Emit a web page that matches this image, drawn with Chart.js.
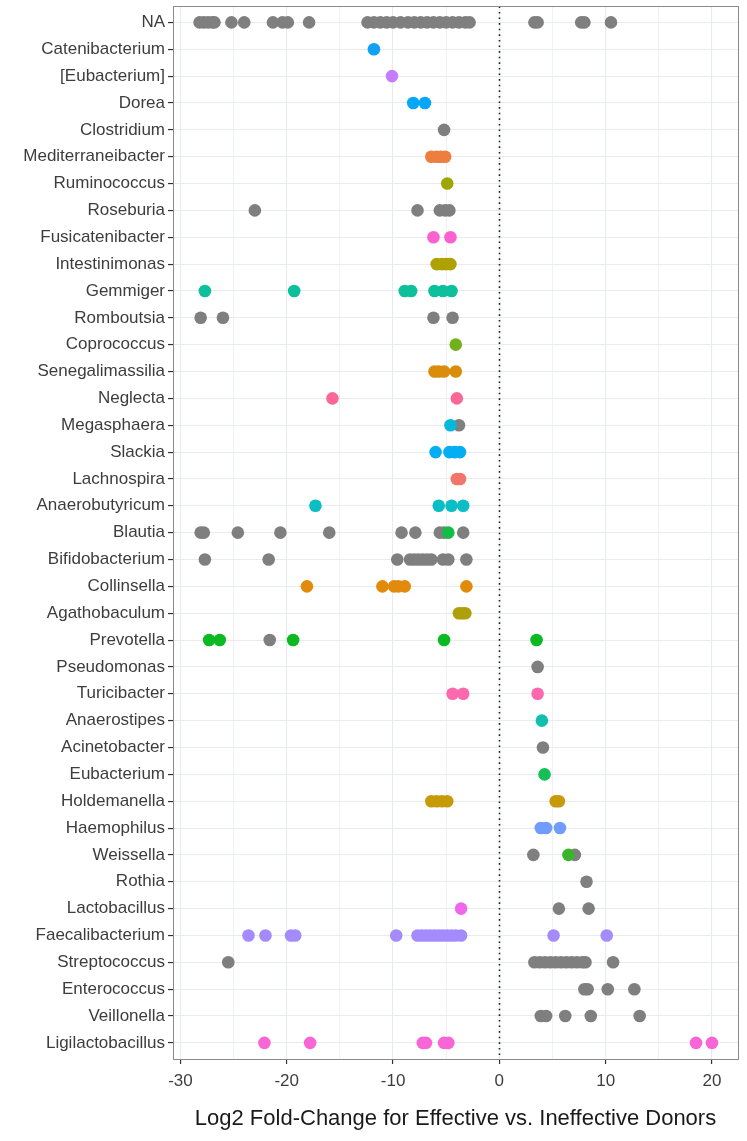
<!DOCTYPE html>
<html>
<head>
<meta charset="utf-8">
<title>Log2 Fold-Change by genus</title>
<script src="https://cdn.jsdelivr.net/npm/chart.js@4.4.1/dist/chart.umd.min.js"></script>
<style>
    html, body { margin: 0; padding: 0; background: #ffffff; }
    #wrap { width: 747px; height: 1141px; }
</style>
</head>
<body>
<div id="wrap"><canvas id="foldChart"></canvas></div>
<script>
// Genera, top to bottom
const genera = [
    'NA', 'Catenibacterium', '[Eubacterium]', 'Dorea', 'Clostridium', 'Mediterraneibacter',
    'Ruminococcus', 'Roseburia', 'Fusicatenibacter', 'Intestinimonas', 'Gemmiger', 'Romboutsia',
    'Coprococcus', 'Senegalimassilia', 'Neglecta', 'Megasphaera', 'Slackia', 'Lachnospira',
    'Anaerobutyricum', 'Blautia', 'Bifidobacterium', 'Collinsella', 'Agathobaculum', 'Prevotella',
    'Pseudomonas', 'Turicibacter', 'Anaerostipes', 'Acinetobacter', 'Eubacterium', 'Holdemanella',
    'Haemophilus', 'Weissella', 'Rothia', 'Lactobacillus', 'Faecalibacterium', 'Streptococcus',
    'Enterococcus', 'Veillonella', 'Ligilactobacillus'
];

// log2 fold-change of the coloured points (species known), one list per genus
const colouredFC = [
    [],
    [-11.8],
    [-10.1],
    [-8.1, -7.0],
    [],
    [-6.4, -5.9, -5.5, -5.1],
    [-4.9],
    [],
    [-6.2, -4.6],
    [-5.9, -5.4, -5.0, -4.6],
    [-27.7, -19.3, -8.9, -8.3, -6.1, -5.3, -4.5],
    [],
    [-4.1],
    [-6.1, -5.7, -5.2, -4.1],
    [-15.7, -4.0],
    [-4.6],
    [-6.0, -4.7, -4.2, -3.7],
    [-4.0, -3.7],
    [-17.3, -5.7, -4.5, -3.4],
    [-4.8],
    [],
    [-18.1, -11.0, -9.9, -9.5, -8.9, -3.1],
    [-3.8, -3.5, -3.2],
    [-27.3, -26.3, -19.4, -5.2, 3.5],
    [],
    [-4.4, -3.4, 3.6],
    [4.0],
    [],
    [4.25],
    [-6.4, -5.9, -5.4, -4.9, 5.3, 5.6],
    [3.9, 4.4, 5.7],
    [6.5],
    [],
    [-3.6],
    [-23.6, -22.0, -19.6, -19.2, -9.7, -7.7, -7.3, -6.9, -6.5, -6.1, -5.7, -5.3, -4.9, -4.5, -4.1, -3.6, 5.1, 10.1],
    [],
    [],
    [],
    [-22.1, -17.8, -7.2, -6.9, -5.2, -4.8, 18.5, 20.0]
];

// log2 fold-change of the grey points (species NA), one list per genus
const greyFC = [
    [-28.2, -27.8, -27.4, -27.0, -26.8, -25.2, -24.0, -21.3, -20.4, -19.9, -17.9,
     -12.4, -11.8, -11.2, -10.6, -10.0, -9.3, -8.6, -8.0, -7.4, -6.8, -6.2, -5.6, -5.0, -4.4, -3.8, -3.2, -2.8,
     3.3, 3.6, 7.7, 8.0, 10.5],
    [], [], [],
    [-5.2],
    [], [],
    [-23.0, -7.7, -5.6, -5.1, -4.7],
    [], [], [],
    [-28.1, -26.0, -6.2, -4.4],
    [], [], [],
    [-3.8],
    [], [], [],
    [-28.1, -27.8, -24.6, -20.6, -16.0, -9.2, -7.9, -5.6, -5.2, -3.4],
    [-27.7, -21.7, -9.6, -8.4, -8.0, -7.6, -7.2, -6.8, -6.4, -5.3, -4.8, -3.1],
    [], [],
    [-21.6],
    [3.6],
    [], [],
    [4.1],
    [], [], [],
    [3.2, 7.1],
    [8.2],
    [5.6, 8.4],
    [],
    [-25.5, 3.3, 3.8, 4.3, 4.8, 5.3, 5.8, 6.3, 6.8, 7.3, 7.8, 8.1, 10.7],
    [8.0, 8.3, 10.2, 12.7],
    [3.9, 4.4, 6.2, 8.6, 13.2],
    []
];

const xTicks = [-30, -20, -10, 0, 10, 20];

// hue per genus (ggplot-like palette)
const genusColours = [
    null, '#12A2F5', '#C57DFC', '#05A8F8', null, '#EE7E3F',
    '#9DA703', null, '#FA63CF', '#ADA200', '#0BC09A', null,
    '#73B01A', '#DA8C0A', '#FA6995', '#06B8DA', '#04AEF3', '#F2766A',
    '#09BEC4', '#11BD45', null, '#E28A0C', '#AEA00A', '#0BBA23',
    null, '#FC69AE', '#12BFAE', null, '#16BE57', '#C69A08',
    '#709CFD', '#3AB52A', null, '#EE67EC', '#A48BFC', null,
    null, null, '#F865D7'
];
const greyColour = '#7F7F7F';

const colouredPoints = [];
const colouredFill = [];
colouredFC.forEach(function(vals, i) {
    vals.forEach(function(v) {
        colouredPoints.push({ x: v, y: i });
        colouredFill.push(genusColours[i]);
    });
});
const greyPoints = [];
greyFC.forEach(function(vals, i) {
    vals.forEach(function(v) { greyPoints.push({ x: v, y: i }); });
});

// panel border + dotted zero line
const panelDecor = {
    id: 'panelDecor',
    beforeDatasetsDraw(chart) {
        const { ctx, chartArea: a, scales: { x } } = chart;
        const zx = Math.round(x.getPixelForValue(0)) + 0.5;
        ctx.save();
        ctx.strokeStyle = '#222';
        ctx.lineWidth = 1.6;
        ctx.setLineDash([1.6, 4]);
        ctx.beginPath();
        ctx.moveTo(zx, a.top);
        ctx.lineTo(zx, a.bottom);
        ctx.stroke();
        ctx.restore();
    },
    afterDraw(chart) {
        const { ctx, chartArea: a } = chart;
        ctx.save();
        ctx.strokeStyle = '#8A8A8A';
        ctx.lineWidth = 1;
        ctx.strokeRect(Math.round(a.left) + 0.5, Math.round(a.top) + 0.5,
            Math.round(a.right - a.left), Math.round(a.bottom - a.top));
        ctx.restore();
    }
};

const FONT = '"Liberation Sans", Arial, Helvetica, sans-serif';
const ctx = document.getElementById('foldChart').getContext('2d');

new Chart(ctx, {
    type: 'scatter',
    data: {
        datasets: [{
            label: 'genus',
            data: colouredPoints,
            backgroundColor: colouredFill,
            borderWidth: 0,
            pointRadius: 6.3,
            pointHoverRadius: 6.3
        }, {
            label: 'NA species',
            data: greyPoints,
            backgroundColor: greyColour,
            borderWidth: 0,
            pointRadius: 6.3,
            pointHoverRadius: 6.3
        }]
    },
    options: {
        responsive: true,
        maintainAspectRatio: false,
        animation: false,
        layout: { padding: { top: 6, right: 9, bottom: 0, left: 0 } },
        plugins: {
            legend: { display: false },
            tooltip: { enabled: false }
        },
        scales: {
            x: {
                type: 'linear',
                min: -30.7,
                max: 22.45,
                afterBuildTicks: function(scale) {
                    // major lines at tens, minor at fives
                    const t = [];
                    for (let v = -30; v <= 20; v += 5) t.push({ value: v });
                    scale.ticks = t;
                },
                afterFit: function(scale) {
                    scale.height = 82;
                    scale.paddingLeft = 0;
                    scale.paddingRight = 0;
                },
                ticks: {
                    font: { family: FONT, size: 17 },
                    color: '#3D3D3D',
                    padding: 7,
                    maxRotation: 0,
                    callback: function(v) { return xTicks.includes(v) ? String(v) : ''; }
                },
                grid: {
                    color: '#E8EBF0',
                    lineWidth: function(c) { return (c.tick && c.tick.value % 10 === 0) ? 1.1 : 0.7; },
                    tickLength: 5,
                    tickColor: function(c) { return (c.tick && c.tick.value % 10 === 0) ? '#333' : 'rgba(0,0,0,0)'; },
                    tickWidth: 1.2
                },
                border: { display: false },
                title: {
                    display: true,
                    text: 'Log2 Fold-Change for Effective vs. Ineffective Donors',
                    font: { family: FONT, size: 22 },
                    color: '#1A1A1A',
                    padding: { top: 4, bottom: 9 }
                }
            },
            y: {
                type: 'linear',
                reverse: true,
                min: -0.6,
                max: genera.length - 0.4,
                afterBuildTicks: function(scale) {
                    scale.ticks = genera.map(function(g, i) { return { value: i }; });
                },
                afterFit: function(scale) {
                    scale.width = 173;
                    scale.paddingTop = 0;
                    scale.paddingBottom = 0;
                },
                ticks: {
                    font: { family: FONT, size: 17 },
                    color: '#3D3D3D',
                    padding: 3,
                    autoSkip: false,
                    callback: function(v) { return genera[v]; }
                },
                grid: {
                    color: '#E8EBF0',
                    lineWidth: 1.1,
                    tickLength: 5,
                    tickColor: '#333',
                    tickWidth: 1.2
                },
                border: { display: false }
            }
        }
    },
    plugins: [panelDecor]
});
</script>
</body>
</html>
